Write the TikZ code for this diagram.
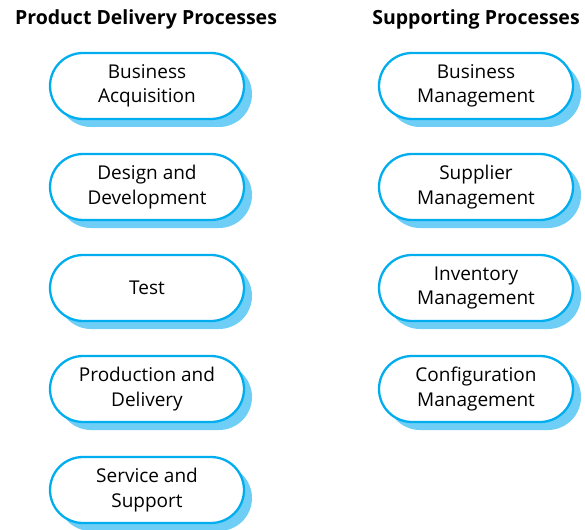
\documentclass[tikz,border=0pt]{standalone}
\usepackage{fontspec}
\setmainfont{Open Sans}
\usepackage{xcolor}
\definecolor{procBlue}{RGB}{0, 174, 239}
\definecolor{procShade}{RGB}{110, 206, 246}
\usepackage{tikz}
\usetikzlibrary{positioning, shadows}

\begin{document}
\begin{tikzpicture}[x=1pt, y=-1pt,
    proc/.style={draw=procBlue, line width=2.3pt, fill=white, rounded corners=33pt,
        minimum width=194pt, minimum height=66pt, align=center, inner sep=0pt,
        font=\fontsize{19}{24.5}\selectfont,
        drop shadow={shadow xshift=8pt, shadow yshift=-8pt, fill=procShade, opacity=1}},
    heading/.style={font=\fontsize{19.5}{22}\selectfont\bfseries},
    node distance=32.7pt]
    \useasboundingbox (0,0) rectangle (585,529);
    \node[heading] (pdp) at (146,19) {Product Delivery Processes};
    \node[heading] (sp) at (476,19) {Supporting Processes};
    % product delivery
    \node[proc] (acq) at (147,86) {Business\\Acquisition};
    \node[proc, below=of acq] (dev) {Design and\\Development};
    \node[proc, below=of dev] (test) {Test};
    \node[proc, below=of test] (prod) {Production and\\Delivery};
    \node[proc, below=of prod] (serv) {Service and\\Support};
    % supporting
    \node[proc] (bm) at (476,86) {Business\\Management};
    \node[proc, below=of bm] (sup) {Supplier\\Management};
    \node[proc, below=of sup] (inv) {Inventory\\Management};
    \node[proc, below=of inv] (conf) {Configuration\\Management};
\end{tikzpicture}
\end{document}
